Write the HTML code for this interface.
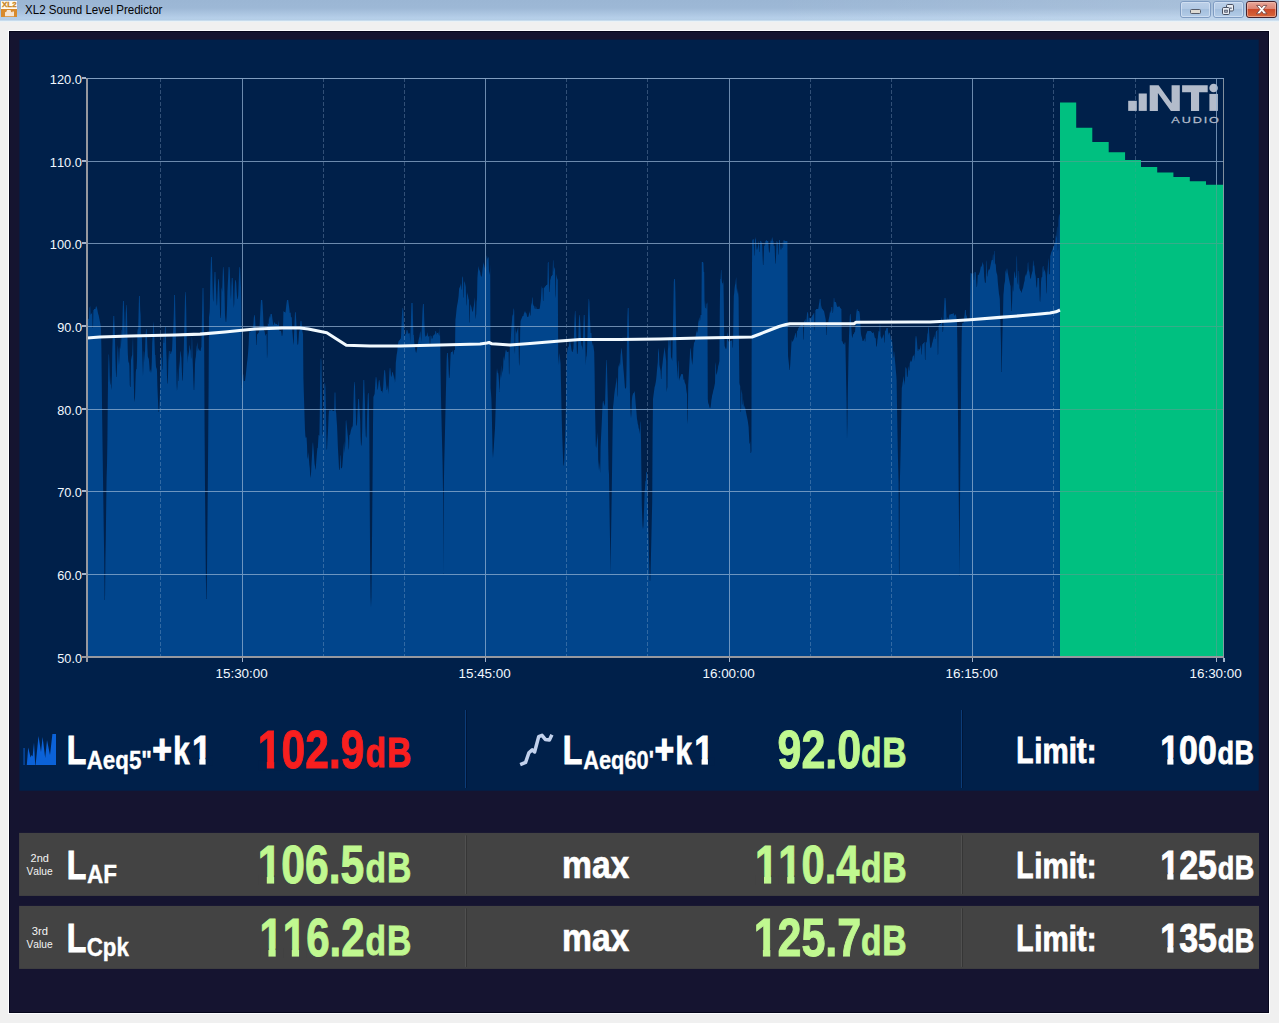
<!DOCTYPE html>
<html><head><meta charset="utf-8"><title>XL2 Sound Level Predictor</title>
<style>html,body{margin:0;padding:0;background:#f0f0f0;overflow:hidden}body{width:1279px;height:1023px;font-family:"Liberation Sans",sans-serif}svg{display:block}text{font-family:"Liberation Sans",sans-serif;font-kerning:none;white-space:pre}</style></head><body>
<svg width="1279" height="1023" viewBox="0 0 1279 1023">
<defs>
<linearGradient id="tb" x1="0" y1="0" x2="0" y2="1"><stop offset="0" stop-color="#9bb6d4"/><stop offset="0.38" stop-color="#9db8d6"/><stop offset="0.86" stop-color="#b6cfe9"/><stop offset="1" stop-color="#b2cce4"/></linearGradient>
<linearGradient id="tbh" x1="0" y1="0" x2="1" y2="0"><stop offset="0.6" stop-color="#fff" stop-opacity="0"/><stop offset="1" stop-color="#fff" stop-opacity="0.14"/></linearGradient>
<linearGradient id="bt" x1="0" y1="0" x2="0" y2="1"><stop offset="0" stop-color="#bcd0e8"/><stop offset="0.48" stop-color="#b2c9e4"/><stop offset="0.5" stop-color="#a4bfdd"/><stop offset="1" stop-color="#b4cde8"/></linearGradient>
<linearGradient id="cl" x1="0" y1="0" x2="0" y2="1"><stop offset="0" stop-color="#e9a99c"/><stop offset="0.48" stop-color="#dc8270"/><stop offset="0.5" stop-color="#cc4a2a"/><stop offset="1" stop-color="#d8683c"/></linearGradient>
<clipPath id="plot"><rect x="87.0" y="78.6" width="1137.0" height="578.4"/></clipPath>
</defs>
<rect width="1279" height="1023" fill="#f0f0f0"/>
<rect width="1279" height="21" fill="url(#tb)"/>
<rect width="1279" height="21" fill="url(#tbh)"/>
<rect y="20.6" width="1279" height="1.1" fill="#e6f2fa"/>
<rect x="1" y="1" width="16" height="8.2" fill="#fffaf0"/>
<rect x="1" y="9" width="16" height="8" fill="#d88a2c"/>
<g transform="translate(2.11 6.75) scale(1.1769 1.0000)"><text font-size="6.69" font-weight="700" fill="#c98624" stroke="#c98624" stroke-width="0.30" stroke-linejoin="miter">XL2</text></g>
<path d="M5 16.2V12.2L6.4 11.8L7 10H10.6L11.2 12L12.4 12.2V11.4H14V16.2Z" fill="#f7eadc" fill-opacity="0.95"/>
<g transform="translate(25.04 13.70) scale(0.9130 1.0000)"><text font-size="12.65" font-weight="400" fill="#050505">XL2 Sound Level Predictor</text></g>
<rect x="1180.5" y="1.5" width="30" height="16" rx="2.5" fill="url(#bt)" stroke="#7f9cc2" stroke-width="1"/>
<rect x="1181.5" y="2.5" width="28" height="14" rx="1.5" fill="none" stroke="#d6e3f4" stroke-opacity="0.75" stroke-width="1"/>
<rect x="1213.5" y="1.5" width="30" height="16" rx="2.5" fill="url(#bt)" stroke="#7f9cc2" stroke-width="1"/>
<rect x="1214.5" y="2.5" width="28" height="14" rx="1.5" fill="none" stroke="#d6e3f4" stroke-opacity="0.75" stroke-width="1"/>
<rect x="1246.5" y="1.5" width="30" height="16" rx="2.5" fill="url(#cl)" stroke="#43212c" stroke-width="1"/>
<rect x="1247.5" y="2.5" width="28" height="14" rx="1.5" fill="none" stroke="#f3c4b8" stroke-opacity="0.6" stroke-width="1"/>
<rect x="1190.5" y="9.5" width="10" height="4" rx="1" fill="#dedbd4" stroke="#565c6a" stroke-width="1"/>
<rect x="1226.5" y="4.5" width="7" height="6.5" rx="1.2" fill="#e9edf3" stroke="#4a5162" stroke-width="1"/>
<rect x="1229.8" y="7.4" width="2" height="1.6" fill="#7c8698"/>
<rect x="1222.5" y="7.5" width="7" height="7" rx="1.2" fill="#e9edf3" stroke="#4a5162" stroke-width="1"/>
<rect x="1224.7" y="10.2" width="2.6" height="2" fill="#c3cee0" stroke="#4a5162" stroke-width="0.9"/>
<path d="M1256.6 5.4h3.3l1.8 2.3l1.8-2.3h3.3l-3.4 4.1l3.6 4.3h-3.5l-1.8-2.4l-1.8 2.4h-3.5l3.6-4.3Z" fill="#fff" stroke="#6a3c3c" stroke-width="0.8" stroke-linejoin="round"/>
<rect x="8.5" y="30.5" width="1261" height="983" fill="none" stroke="#fdfdff" stroke-width="1"/>
<rect x="9" y="31" width="1260" height="982" fill="#151430"/>
<rect x="9.5" y="31.5" width="1259" height="981" fill="none" stroke="#07071c" stroke-width="1"/>
<rect x="19.4" y="39.6" width="1239.3" height="751.1" fill="#00204a"/>
<path d="M87.0 657.0L87.0 321L87.4 320L87.8 319L88.2 319L88.6 319L89.0 318L89.4 308L89.8 307L90.2 306L90.6 315L91.0 314L91.4 314L91.8 313L92.2 312L92.6 328L93.0 328L93.4 310L93.8 310L94.2 309L94.6 309L95.0 309L95.4 309L95.8 307L96.2 306L96.6 307L97.0 308L97.4 310L97.8 312L98.2 314L98.6 315L99.0 317L99.4 319L99.8 321L100.2 323L100.6 325L101.0 329L101.4 348L101.8 384L102.2 419L102.6 449L103.0 477L103.4 505L103.8 532L104.2 557L104.6 600L105.0 600L105.4 559L105.8 538L106.2 505L106.6 477L107.0 465L107.4 440L107.8 398L108.2 371L108.6 354L109.0 355L109.4 364L109.8 379L110.2 385L110.6 384L111.0 375L111.4 390L111.8 387L112.2 353L112.6 340L113.0 325L113.4 316L113.8 316L114.2 316L114.6 327L115.0 338L115.4 357L115.8 370L116.2 377L116.6 377L117.0 367L117.4 353L117.8 345L118.2 349L118.6 359L119.0 365L119.4 357L119.8 347L120.2 349L120.6 345L121.0 330L121.4 330L121.8 344L122.2 331L122.6 314L123.0 301L123.4 301L123.8 301L124.2 312L124.6 324L125.0 340L125.4 327L125.8 312L126.2 305L126.6 305L127.0 313L127.4 334L127.8 353L128.2 360L128.6 363L129.0 362L129.4 366L129.8 385L130.2 387L130.6 387L131.0 360L131.4 358L131.8 356L132.2 355L132.6 345L133.0 335L133.4 362L133.8 382L134.2 398L134.6 402L135.0 398L135.4 384L135.8 372L136.2 369L136.6 369L137.0 360L137.4 332L137.8 329L138.2 329L138.6 312L139.0 296L139.4 296L139.8 296L140.2 310L140.6 315L141.0 338L141.4 337L141.8 333L142.2 351L142.6 364L143.0 376L143.4 364L143.8 351L144.2 352L144.6 362L145.0 352L145.4 338L145.8 332L146.2 329L146.6 329L147.0 336L147.4 348L147.8 356L148.2 359L148.6 357L149.0 361L149.4 366L149.8 372L150.2 369L150.6 371L151.0 373L151.4 370L151.8 362L152.2 343L152.6 337L153.0 328L153.4 321L153.8 326L154.2 332L154.6 344L155.0 355L155.4 355L155.8 364L156.2 369L156.6 367L157.0 371L157.4 387L157.8 396L158.2 405L158.6 412L159.0 412L159.4 406L159.8 397L160.2 385L160.6 364L161.0 347L161.4 358L161.8 357L162.2 369L162.6 370L163.0 344L163.4 331L163.8 343L164.2 343L164.6 335L165.0 327L165.4 327L165.8 327L166.2 349L166.6 359L167.0 377L167.4 384L167.8 383L168.2 368L168.6 350L169.0 361L169.4 351L169.8 351L170.2 351L170.6 354L171.0 354L171.4 351L171.8 352L172.2 347L172.6 336L173.0 333L173.4 327L173.8 314L174.2 295L174.6 295L175.0 295L175.4 316L175.8 330L176.2 360L176.6 384L177.0 391L177.4 386L177.8 368L178.2 381L178.6 381L179.0 361L179.4 369L179.8 361L180.2 352L180.6 351L181.0 355L181.4 358L181.8 368L182.2 380L182.6 381L183.0 374L183.4 359L183.8 349L184.2 332L184.6 315L185.0 297L185.4 292L185.8 292L186.2 308L186.6 334L187.0 355L187.4 363L187.8 350L188.2 353L188.6 357L189.0 352L189.4 345L189.8 346L190.2 351L190.6 348L191.0 359L191.4 357L191.8 336L192.2 340L192.6 359L193.0 369L193.4 381L193.8 390L194.2 390L194.6 379L195.0 364L195.4 359L195.8 357L196.2 352L196.6 347L197.0 345L197.4 342L197.8 351L198.2 350L198.6 348L199.0 349L199.4 351L199.8 350L200.2 351L200.6 351L201.0 348L201.4 347L201.8 325L202.2 307L202.6 288L203.0 288L203.4 288L203.8 308L204.2 350L204.6 431L205.0 486L205.4 530L205.8 570L206.2 599L206.6 599L207.0 570L207.4 529L207.8 485L208.2 439L208.6 385L209.0 312L209.4 317L209.8 308L210.2 285L210.6 270L211.0 257L211.4 257L211.8 257L212.2 270L212.6 286L213.0 300L213.4 302L213.8 290L214.2 281L214.6 272L215.0 272L215.4 272L215.8 284L216.2 294L216.6 304L217.0 306L217.4 296L217.8 286L218.2 279L218.6 279L219.0 281L219.4 291L219.8 303L220.2 318L220.6 318L221.0 314L221.4 290L221.8 287L222.2 292L222.6 278L223.0 267L223.4 267L223.8 271L224.2 282L224.6 296L225.0 315L225.4 319L225.8 322L226.2 322L226.6 317L227.0 308L227.4 292L227.8 284L228.2 277L228.6 267L229.0 267L229.4 267L229.8 270L230.2 282L230.6 295L231.0 300L231.4 286L231.8 278L232.2 278L232.6 278L233.0 286L233.4 299L233.8 308L234.2 304L234.6 290L235.0 282L235.4 280L235.8 280L236.2 283L236.6 290L237.0 296L237.4 299L237.8 299L238.2 295L238.6 285L239.0 275L239.4 267L239.8 267L240.2 269L240.6 279L241.0 287L241.4 305L241.8 388L242.2 380L242.6 379L243.0 374L243.4 375L243.8 381L244.2 381L244.6 381L245.0 381L245.4 378L245.8 375L246.2 371L246.6 367L247.0 363L247.4 360L247.8 356L248.2 351L248.6 345L249.0 335L249.4 330L249.8 331L250.2 332L250.6 331L251.0 331L251.4 331L251.8 329L252.2 328L252.6 328L253.0 327L253.4 324L253.8 318L254.2 315L254.6 315L255.0 317L255.4 324L255.8 331L256.2 345L256.6 345L257.0 335L257.4 334L257.8 334L258.2 333L258.6 333L259.0 331L259.4 330L259.8 322L260.2 314L260.6 306L261.0 300L261.4 300L261.8 300L262.2 300L262.6 305L263.0 312L263.4 322L263.8 329L264.2 331L264.6 331L265.0 334L265.4 335L265.8 336L266.2 334L266.6 334L267.0 359L267.4 354L267.8 323L268.2 324L268.6 324L269.0 317L269.4 316L269.8 319L270.2 317L270.6 314L271.0 314L271.4 314L271.8 314L272.2 317L272.6 320L273.0 323L273.4 325L273.8 325L274.2 323L274.6 322L275.0 323L275.4 324L275.8 324L276.2 324L276.6 324L277.0 324L277.4 325L277.8 325L278.2 325L278.6 320L279.0 325L279.4 331L279.8 331L280.2 331L280.6 331L281.0 331L281.4 333L281.8 336L282.2 336L282.6 334L283.0 329L283.4 312L283.8 311L284.2 312L284.6 312L285.0 312L285.4 313L285.8 310L286.2 306L286.6 303L287.0 300L287.4 300L287.8 300L288.2 300L288.6 303L289.0 306L289.4 309L289.8 313L290.2 313L290.6 312L291.0 317L291.4 317L291.8 318L292.2 330L292.6 334L293.0 339L293.4 345L293.8 342L294.2 331L294.6 321L295.0 312L295.4 312L295.8 313L296.2 320L296.6 327L297.0 337L297.4 344L297.8 345L298.2 344L298.6 339L299.0 332L299.4 331L299.8 328L300.2 325L300.6 321L301.0 321L301.4 321L301.8 325L302.2 329L302.6 334L303.0 331L303.4 378L303.8 392L304.2 404L304.6 418L305.0 430L305.4 436L305.8 438L306.2 437L306.6 438L307.0 445L307.4 457L307.8 459L308.2 452L308.6 456L309.0 460L309.4 465L309.8 468L310.2 475L310.6 478L311.0 474L311.4 466L311.8 459L312.2 452L312.6 444L313.0 442L313.4 447L313.8 452L314.2 459L314.6 464L315.0 466L315.4 470L315.8 468L316.2 462L316.6 457L317.0 452L317.4 448L317.8 448L318.2 441L318.6 435L319.0 435L319.4 436L319.8 411L320.2 381L320.6 360L321.0 358L321.4 361L321.8 386L322.2 412L322.6 435L323.0 434L323.4 424L323.8 406L324.2 389L324.6 383L325.0 383L325.4 387L325.8 403L326.2 424L326.6 449L327.0 450L327.4 441L327.8 434L328.2 426L328.6 416L329.0 410L329.4 410L329.8 411L330.2 411L330.6 410L331.0 410L331.4 410L331.8 410L332.2 411L332.6 410L333.0 411L333.4 411L333.8 411L334.2 411L334.6 393L335.0 392L335.4 393L335.8 411L336.2 413L336.6 420L337.0 425L337.4 434L337.8 445L338.2 453L338.6 460L339.0 468L339.4 470L339.8 470L340.2 456L340.6 455L341.0 469L341.4 468L341.8 468L342.2 467L342.6 462L343.0 457L343.4 451L343.8 445L344.2 441L344.6 453L345.0 448L345.4 442L345.8 421L346.2 420L346.6 424L347.0 428L347.4 432L347.8 436L348.2 440L348.6 450L349.0 448L349.4 435L349.8 435L350.2 434L350.6 432L351.0 430L351.4 429L351.8 427L352.2 426L352.6 428L353.0 421L353.4 405L353.8 391L354.2 382L354.6 382L355.0 386L355.4 401L355.8 412L356.2 425L356.6 426L357.0 424L357.4 415L357.8 407L358.2 399L358.6 399L359.0 399L359.4 407L359.8 413L360.2 421L360.6 437L361.0 445L361.4 446L361.8 442L362.2 429L362.6 407L363.0 394L363.4 380L363.8 380L364.2 380L364.6 393L365.0 404L365.4 426L365.8 436L366.2 438L366.6 436L367.0 419L367.4 406L367.8 395L368.2 393L368.6 393L369.0 404L369.4 443L369.8 511L370.2 567L370.6 597L371.0 607L371.4 597L371.8 561L372.2 519L372.6 474L373.0 425L373.4 397L373.8 396L374.2 395L374.6 394L375.0 388L375.4 381L375.8 377L376.2 377L376.6 379L377.0 384L377.4 389L377.8 390L378.2 386L378.6 382L379.0 380L379.4 380L379.8 382L380.2 386L380.6 388L381.0 391L381.4 391L381.8 391L382.2 393L382.6 391L383.0 389L383.4 383L383.8 376L384.2 371L384.6 370L385.0 370L385.4 374L385.8 380L386.2 385L386.6 390L387.0 390L387.4 388L387.8 385L388.2 394L388.6 389L389.0 381L389.4 372L389.8 368L390.2 368L390.6 371L391.0 376L391.4 377L391.8 375L392.2 372L392.6 372L393.0 373L393.4 375L393.8 376L394.2 380L394.6 376L395.0 383L395.4 378L395.8 363L396.2 359L396.6 355L397.0 353L397.4 350L397.8 345L398.2 343L398.6 341L399.0 341L399.4 340L399.8 340L400.2 339L400.6 339L401.0 337L401.4 328L401.8 318L402.2 311L402.6 308L403.0 308L403.4 311L403.8 319L404.2 328L404.6 336L405.0 336L405.4 334L405.8 334L406.2 330L406.6 330L407.0 334L407.4 330L407.8 330L408.2 333L408.6 334L409.0 333L409.4 333L409.8 334L410.2 343L410.6 331L411.0 317L411.4 303L411.8 303L412.2 303L412.6 303L413.0 319L413.4 335L413.8 335L414.2 342L414.6 345L415.0 348L415.4 350L415.8 352L416.2 353L416.6 351L417.0 349L417.4 347L417.8 344L418.2 342L418.6 340L419.0 338L419.4 337L419.8 334L420.2 331L420.6 333L421.0 338L421.4 342L421.8 328L422.2 318L422.6 309L423.0 304L423.4 304L423.8 304L424.2 318L424.6 328L425.0 335L425.4 336L425.8 337L426.2 336L426.6 336L427.0 334L427.4 332L427.8 335L428.2 336L428.6 337L429.0 336L429.4 336L429.8 347L430.2 347L430.6 335L431.0 336L431.4 336L431.8 339L432.2 338L432.6 339L433.0 335L433.4 336L433.8 335L434.2 335L434.6 334L435.0 334L435.4 331L435.8 331L436.2 332L436.6 335L437.0 333L437.4 333L437.8 333L438.2 332L438.6 334L439.0 335L439.4 336L439.8 327L440.2 340L440.6 372L441.0 397L441.4 415L441.8 432L442.2 448L442.6 464L443.0 489L443.4 574L443.8 488L444.2 464L444.6 448L445.0 431L445.4 413L445.8 396L446.2 379L446.6 361L447.0 353L447.4 353L447.8 353L448.2 359L448.6 369L449.0 378L449.4 378L449.8 374L450.2 364L450.6 354L451.0 352L451.4 352L451.8 352L452.2 352L452.6 351L453.0 350L453.4 354L453.8 355L454.2 350L454.6 350L455.0 350L455.4 320L455.8 317L456.2 313L456.6 309L457.0 306L457.4 304L457.8 302L458.2 299L458.6 296L459.0 290L459.4 287L459.8 288L460.2 286L460.6 285L461.0 283L461.4 290L461.8 289L462.2 278L462.6 277L463.0 276L463.4 297L463.8 298L464.2 281L464.6 282L465.0 283L465.4 285L465.8 287L466.2 304L466.6 306L467.0 292L467.4 294L467.8 295L468.2 297L468.6 299L469.0 300L469.4 322L469.8 323L470.2 304L470.6 305L471.0 306L471.4 307L471.8 309L472.2 311L472.6 312L473.0 311L473.4 308L473.8 306L474.2 303L474.6 300L475.0 297L475.4 319L475.8 317L476.2 314L476.6 302L477.0 299L477.4 278L477.8 273L478.2 269L478.6 266L479.0 269L479.4 270L479.8 271L480.2 272L480.6 275L481.0 276L481.4 277L481.8 276L482.2 273L482.6 269L483.0 266L483.4 262L483.8 264L484.2 265L484.6 267L485.0 268L485.4 270L485.8 269L486.2 266L486.6 257L487.0 255L487.4 260L487.8 258L488.2 257L488.6 258L489.0 271L489.4 273L489.8 275L490.2 264L490.6 388L491.0 393L491.4 399L491.8 412L492.2 433L492.6 452L493.0 458L493.4 452L493.8 447L494.2 440L494.6 434L495.0 428L495.4 416L495.8 402L496.2 388L496.6 374L497.0 368L497.4 371L497.8 373L498.2 373L498.6 376L499.0 382L499.4 392L499.8 387L500.2 368L500.6 380L501.0 374L501.4 378L501.8 365L502.2 369L502.6 373L503.0 370L503.4 360L503.8 356L504.2 361L504.6 358L505.0 355L505.4 352L505.8 350L506.2 350L506.6 351L507.0 352L507.4 352L507.8 352L508.2 352L508.6 351L509.0 375L509.4 373L509.8 347L510.2 345L510.6 342L511.0 335L511.4 327L511.8 323L512.2 317L512.6 314L513.0 316L513.4 310L513.8 308L514.2 311L514.6 350L515.0 354L515.4 326L515.8 330L516.2 334L516.6 332L517.0 331L517.4 330L517.8 328L518.2 327L518.6 345L519.0 364L519.4 366L519.8 354L520.2 330L520.6 321L521.0 320L521.4 319L521.8 318L522.2 317L522.6 316L523.0 316L523.4 316L523.8 314L524.2 313L524.6 312L525.0 311L525.4 312L525.8 313L526.2 313L526.6 314L527.0 316L527.4 317L527.8 317L528.2 317L528.6 316L529.0 314L529.4 313L529.8 311L530.2 316L530.6 315L531.0 306L531.4 304L531.8 303L532.2 297L532.6 298L533.0 304L533.4 305L533.8 306L534.2 306L534.6 308L535.0 309L535.4 309L535.8 306L536.2 307L536.6 309L537.0 309L537.4 309L537.8 309L538.2 309L538.6 309L539.0 309L539.4 309L539.8 308L540.2 305L540.6 302L541.0 298L541.4 290L541.8 286L542.2 288L542.6 288L543.0 301L543.4 301L543.8 288L544.2 287L544.6 288L545.0 287L545.4 286L545.8 286L546.2 285L546.6 285L547.0 285L547.4 284L547.8 263L548.2 262L548.6 262L549.0 282L549.4 292L549.8 292L550.2 280L550.6 279L551.0 277L551.4 276L551.8 276L552.2 275L552.6 275L553.0 261L553.4 260L553.8 272L554.2 269L554.6 268L555.0 267L555.4 295L555.8 298L556.2 274L556.6 276L557.0 278L557.4 279L557.8 280L558.2 355L558.6 360L559.0 365L559.4 353L559.8 355L560.2 360L560.6 364L561.0 383L561.4 403L561.8 421L562.2 435L562.6 446L563.0 457L563.4 465L563.8 466L564.2 461L564.6 451L565.0 440L565.4 429L565.8 412L566.2 388L566.6 361L567.0 353L567.4 350L567.8 348L568.2 347L568.6 347L569.0 345L569.4 343L569.8 341L570.2 341L570.6 344L571.0 346L571.4 349L571.8 351L572.2 352L572.6 352L573.0 350L573.4 349L573.8 340L574.2 328L574.6 317L575.0 311L575.4 311L575.8 318L576.2 331L576.6 345L577.0 354L577.4 354L577.8 352L578.2 341L578.6 328L579.0 318L579.4 315L579.8 315L580.2 322L580.6 331L581.0 340L581.4 345L581.8 346L582.2 347L582.6 350L583.0 339L583.4 325L583.8 315L584.2 315L584.6 315L585.0 327L585.4 348L585.8 365L586.2 357L586.6 356L587.0 351L587.4 339L587.8 323L588.2 309L588.6 299L589.0 299L589.4 302L589.8 315L590.2 323L590.6 333L591.0 333L591.4 333L591.8 341L592.2 343L592.6 346L593.0 343L593.4 346L593.8 349L594.2 352L594.6 372L595.0 406L595.4 426L595.8 446L596.2 448L596.6 444L597.0 440L597.4 437L597.8 432L598.2 460L598.6 464L599.0 470L599.4 462L599.8 469L600.2 473L600.6 446L601.0 438L601.4 430L601.8 422L602.2 412L602.6 404L603.0 401L603.4 401L603.8 403L604.2 404L604.6 406L605.0 405L605.4 390L605.8 375L606.2 360L606.6 360L607.0 368L607.4 384L607.8 400L608.2 446L608.6 469L609.0 474L609.4 501L609.8 527L610.2 550L610.6 574L611.0 539L611.4 514L611.8 488L612.2 459L612.6 431L613.0 407L613.4 404L613.8 400L614.2 395L614.6 392L615.0 389L615.4 387L615.8 384L616.2 382L616.6 379L617.0 377L617.4 397L617.8 395L618.2 369L618.6 366L619.0 365L619.4 362L619.8 367L620.2 364L620.6 355L621.0 352L621.4 348L621.8 349L622.2 354L622.6 359L623.0 364L623.4 369L623.8 373L624.2 378L624.6 383L625.0 388L625.4 389L625.8 388L626.2 387L626.6 364L627.0 337L627.4 317L627.8 308L628.2 308L628.6 308L629.0 332L629.4 354L629.8 384L630.2 405L630.6 413L631.0 418L631.4 414L631.8 401L632.2 397L632.6 395L633.0 394L633.4 393L633.8 393L634.2 392L634.6 391L635.0 395L635.4 400L635.8 405L636.2 409L636.6 414L637.0 419L637.4 421L637.8 424L638.2 425L638.6 428L639.0 429L639.4 431L639.8 434L640.2 421L640.6 423L641.0 439L641.4 474L641.8 505L642.2 517L642.6 526L643.0 529L643.4 526L643.8 517L644.2 505L644.6 492L645.0 488L645.4 481L645.8 481L646.2 472L646.6 472L647.0 473L647.4 480L647.8 501L648.2 520L648.6 539L649.0 556L649.4 569L649.8 581L650.2 581L650.6 570L651.0 554L651.4 537L651.8 519L652.2 502L652.6 436L653.0 399L653.4 396L653.8 393L654.2 390L654.6 387L655.0 386L655.4 384L655.8 382L656.2 379L656.6 375L657.0 370L657.4 366L657.8 362L658.2 348L658.6 350L659.0 353L659.4 365L659.8 367L660.2 369L660.6 371L661.0 379L661.4 379L661.8 369L662.2 366L662.6 363L663.0 359L663.4 356L663.8 353L664.2 350L664.6 347L665.0 351L665.4 354L665.8 358L666.2 361L666.6 392L667.0 389L667.4 387L667.8 351L668.2 347L668.6 338L669.0 339L669.4 348L669.8 336L670.2 338L670.6 341L671.0 357L671.4 358L671.8 359L672.2 361L672.6 347L673.0 325L673.4 304L673.8 282L674.2 279L674.6 279L675.0 279L675.4 293L675.8 315L676.2 337L676.6 360L677.0 366L677.4 372L677.8 379L678.2 362L678.6 360L679.0 381L679.4 379L679.8 378L680.2 377L680.6 376L681.0 375L681.4 374L681.8 374L682.2 374L682.6 374L683.0 375L683.4 379L683.8 380L684.2 379L684.6 382L685.0 383L685.4 384L685.8 385L686.2 389L686.6 392L687.0 394L687.4 424L687.8 419L688.2 385L688.6 378L689.0 371L689.4 364L689.8 357L690.2 349L690.6 348L691.0 352L691.4 358L691.8 361L692.2 365L692.6 362L693.0 358L693.4 348L693.8 345L694.2 341L694.6 343L695.0 341L695.4 338L695.8 335L696.2 333L696.6 330L697.0 333L697.4 332L697.8 330L698.2 323L698.6 321L699.0 319L699.4 317L699.8 321L700.2 320L700.6 315L701.0 315L701.4 315L701.8 262L702.2 262L702.6 262L703.0 262L703.4 263L703.8 272L704.2 272L704.6 307L705.0 300L705.4 308L705.8 308L706.2 309L706.6 303L707.0 304L707.4 302L707.8 399L708.2 403L708.6 404L709.0 405L709.4 407L709.8 408L710.2 408L710.6 407L711.0 404L711.4 400L711.8 398L712.2 395L712.6 394L713.0 392L713.4 390L713.8 389L714.2 387L714.6 385L715.0 383L715.4 365L715.8 362L716.2 375L716.6 374L717.0 373L717.4 371L717.8 369L718.2 366L718.6 365L719.0 363L719.4 361L719.8 311L720.2 279L720.6 279L721.0 270L721.4 270L721.8 281L722.2 283L722.6 283L723.0 285L723.4 279L723.8 303L724.2 337L724.6 346L725.0 347L725.4 348L725.8 349L726.2 349L726.6 347L727.0 336L727.4 334L727.8 332L728.2 341L728.6 341L729.0 342L729.4 342L729.8 342L730.2 341L730.6 341L731.0 341L731.4 341L731.8 340L732.2 340L732.6 348L733.0 347L733.4 318L733.8 296L734.2 293L734.6 288L735.0 285L735.4 284L735.8 280L736.2 277L736.6 287L737.0 291L737.4 294L737.8 288L738.2 293L738.6 298L739.0 346L739.4 383L739.8 385L740.2 386L740.6 412L741.0 412L741.4 389L741.8 392L742.2 394L742.6 404L743.0 405L743.4 399L743.8 406L744.2 408L744.6 405L745.0 407L745.4 409L745.8 411L746.2 413L746.6 415L747.0 417L747.4 419L747.8 421L748.2 424L748.6 427L749.0 435L749.4 443L749.8 444L750.2 441L750.6 453L751.0 453L751.4 451L751.8 290L752.2 241L752.6 240L753.0 239L753.4 239L753.8 240L754.2 256L754.6 255L755.0 240L755.4 239L755.8 237L756.2 244L756.6 249L757.0 250L757.4 249L757.8 247L758.2 245L758.6 242L759.0 241L759.4 252L759.8 252L760.2 241L760.6 241L761.0 241L761.4 242L761.8 243L762.2 246L762.6 257L763.0 265L763.4 265L763.8 255L764.2 242L764.6 246L765.0 246L765.4 241L765.8 241L766.2 240L766.6 240L767.0 241L767.4 241L767.8 241L768.2 241L768.6 247L769.0 252L769.4 253L769.8 251L770.2 245L770.6 240L771.0 241L771.4 241L771.8 239L772.2 237L772.6 239L773.0 241L773.4 241L773.8 246L774.2 246L774.6 245L775.0 257L775.4 264L775.8 263L776.2 251L776.6 241L777.0 241L777.4 242L777.8 243L778.2 255L778.6 254L779.0 240L779.4 240L779.8 240L780.2 245L780.6 249L781.0 250L781.4 249L781.8 245L782.2 241L782.6 248L783.0 248L783.4 241L783.8 240L784.2 241L784.6 240L785.0 241L785.4 241L785.8 241L786.2 241L786.6 241L787.0 241L787.4 241L787.8 338L788.2 365L788.6 356L789.0 364L789.4 370L789.8 370L790.2 365L790.6 358L791.0 351L791.4 344L791.8 340L792.2 341L792.6 342L793.0 341L793.4 340L793.8 339L794.2 338L794.6 336L795.0 335L795.4 333L795.8 333L796.2 338L796.6 337L797.0 331L797.4 331L797.8 330L798.2 328L798.6 328L799.0 327L799.4 326L799.8 326L800.2 326L800.6 325L801.0 324L801.4 324L801.8 324L802.2 324L802.6 324L803.0 324L803.4 340L803.8 339L804.2 321L804.6 321L805.0 320L805.4 319L805.8 323L806.2 322L806.6 319L807.0 314L807.4 312L807.8 312L808.2 314L808.6 323L809.0 317L809.4 318L809.8 318L810.2 318L810.6 320L811.0 319L811.4 317L811.8 317L812.2 316L812.6 315L813.0 315L813.4 314L813.8 313L814.2 313L814.6 331L815.0 329L815.4 310L815.8 310L816.2 309L816.6 309L817.0 309L817.4 309L817.8 309L818.2 309L818.6 307L819.0 304L819.4 302L819.8 299L820.2 299L820.6 299L821.0 309L821.4 305L821.8 308L822.2 309L822.6 309L823.0 310L823.4 311L823.8 310L824.2 312L824.6 314L825.0 316L825.4 318L825.8 320L826.2 335L826.6 335L827.0 322L827.4 322L827.8 323L828.2 323L828.6 320L829.0 318L829.4 316L829.8 313L830.2 310L830.6 313L831.0 312L831.4 307L831.8 307L832.2 307L832.6 313L833.0 313L833.4 307L833.8 298L834.2 298L834.6 302L835.0 302L835.4 302L835.8 302L836.2 303L836.6 305L837.0 306L837.4 307L837.8 307L838.2 307L838.6 306L839.0 307L839.4 306L839.8 307L840.2 308L840.6 308L841.0 309L841.4 309L841.8 341L842.2 341L842.6 342L843.0 343L843.4 344L843.8 344L844.2 345L844.6 343L845.0 342L845.4 343L845.8 363L846.2 384L846.6 403L847.0 439L847.4 424L847.8 393L848.2 372L848.6 349L849.0 336L849.4 327L849.8 316L850.2 314L850.6 314L851.0 320L851.4 329L851.8 335L852.2 338L852.6 337L853.0 335L853.4 334L853.8 334L854.2 333L854.6 332L855.0 332L855.4 327L855.8 320L856.2 314L856.6 311L857.0 309L857.4 309L857.8 311L858.2 311L858.6 311L859.0 311L859.4 312L859.8 314L860.2 320L860.6 329L861.0 334L861.4 336L861.8 337L862.2 339L862.6 341L863.0 341L863.4 341L863.8 340L864.2 339L864.6 338L865.0 342L865.4 341L865.8 335L866.2 334L866.6 333L867.0 332L867.4 331L867.8 331L868.2 331L868.6 331L869.0 331L869.4 331L869.8 331L870.2 331L870.6 331L871.0 331L871.4 332L871.8 332L872.2 333L872.6 333L873.0 333L873.4 332L873.8 333L874.2 335L874.6 337L875.0 338L875.4 338L875.8 339L876.2 346L876.6 347L877.0 345L877.4 340L877.8 338L878.2 334L878.6 331L879.0 331L879.4 332L879.8 324L880.2 325L880.6 336L881.0 337L881.4 338L881.8 339L882.2 338L882.6 337L883.0 336L883.4 335L883.8 334L884.2 343L884.6 342L885.0 331L885.4 331L885.8 330L886.2 329L886.6 328L887.0 328L887.4 328L887.8 328L888.2 333L888.6 335L889.0 332L889.4 333L889.8 333L890.2 335L890.6 338L891.0 340L891.4 339L891.8 341L892.2 342L892.6 346L893.0 356L893.4 358L893.8 351L894.2 352L894.6 356L895.0 361L895.4 365L895.8 370L896.2 374L896.6 380L897.0 404L897.4 429L897.8 450L898.2 468L898.6 483L899.0 574L899.4 574L899.8 483L900.2 468L900.6 451L901.0 431L901.4 409L901.8 388L902.2 386L902.6 383L903.0 381L903.4 378L903.8 376L904.2 385L904.6 382L905.0 380L905.4 368L905.8 367L906.2 368L906.6 369L907.0 377L907.4 377L907.8 375L908.2 368L908.6 366L909.0 371L909.4 370L909.8 363L910.2 362L910.6 361L911.0 360L911.4 362L911.8 361L912.2 359L912.6 357L913.0 356L913.4 356L913.8 355L914.2 354L914.6 361L915.0 351L915.4 339L915.8 336L916.2 336L916.6 338L917.0 342L917.4 348L917.8 351L918.2 351L918.6 349L919.0 349L919.4 350L919.8 349L920.2 348L920.6 346L921.0 345L921.4 354L921.8 355L922.2 345L922.6 344L923.0 344L923.4 343L923.8 343L924.2 342L924.6 342L925.0 360L925.4 360L925.8 342L926.2 342L926.6 343L927.0 339L927.4 334L927.8 333L928.2 327L928.6 327L929.0 330L929.4 336L929.8 342L930.2 347L930.6 348L931.0 348L931.4 347L931.8 345L932.2 343L932.6 342L933.0 340L933.4 339L933.8 337L934.2 337L934.6 334L935.0 339L935.4 339L935.8 332L936.2 331L936.6 331L937.0 330L937.4 330L937.8 355L938.2 354L938.6 326L939.0 325L939.4 325L939.8 324L940.2 324L940.6 324L941.0 324L941.4 318L941.8 317L942.2 323L942.6 332L943.0 332L943.4 327L943.8 312L944.2 305L944.6 298L945.0 298L945.4 298L945.8 301L946.2 311L946.6 320L947.0 320L947.4 318L947.8 317L948.2 320L948.6 319L949.0 316L949.4 315L949.8 314L950.2 315L950.6 314L951.0 314L951.4 314L951.8 314L952.2 314L952.6 314L953.0 313L953.4 313L953.8 314L954.2 315L954.6 316L955.0 315L955.4 314L955.8 315L956.2 316L956.6 319L957.0 321L957.4 348L957.8 394L958.2 437L958.6 478L959.0 523L959.4 576L959.8 523L960.2 478L960.6 437L961.0 393L961.4 355L961.8 331L962.2 323L962.6 323L963.0 323L963.4 323L963.8 322L964.2 317L964.6 315L965.0 310L965.4 310L965.8 310L966.2 316L966.6 315L967.0 318L967.4 319L967.8 319L968.2 319L968.6 320L969.0 320L969.4 318L969.8 318L970.2 288L970.6 273L971.0 273L971.4 273L971.8 274L972.2 274L972.6 274L973.0 273L973.4 273L973.8 280L974.2 280L974.6 272L975.0 272L975.4 272L975.8 273L976.2 281L976.6 287L977.0 287L977.4 282L977.8 275L978.2 275L978.6 275L979.0 274L979.4 273L979.8 272L980.2 270L980.6 268L981.0 266L981.4 267L981.8 266L982.2 263L982.6 262L983.0 265L983.4 264L983.8 269L984.2 277L984.6 280L985.0 283L985.4 283L985.8 282L986.2 262L986.6 260L987.0 277L987.4 276L987.8 273L988.2 271L988.6 270L989.0 269L989.4 270L989.8 269L990.2 267L990.6 265L991.0 263L991.4 261L991.8 260L992.2 260L992.6 260L993.0 254L993.4 255L993.8 264L994.2 251L994.6 251L995.0 265L995.4 263L995.8 265L996.2 271L996.6 273L997.0 274L997.4 276L997.8 282L998.2 286L998.6 290L999.0 294L999.4 296L999.8 299L1000.2 315L1000.6 329L1001.0 345L1001.4 372L1001.8 372L1002.2 345L1002.6 329L1003.0 314L1003.4 295L1003.8 291L1004.2 285L1004.6 283L1005.0 281L1005.4 272L1005.8 270L1006.2 274L1006.6 270L1007.0 268L1007.4 270L1007.8 273L1008.2 275L1008.6 277L1009.0 279L1009.4 281L1009.8 283L1010.2 285L1010.6 286L1011.0 301L1011.4 311L1011.8 311L1012.2 299L1012.6 284L1013.0 292L1013.4 290L1013.8 280L1014.2 273L1014.6 271L1015.0 274L1015.4 278L1015.8 278L1016.2 275L1016.6 255L1017.0 258L1017.4 282L1017.8 284L1018.2 285L1018.6 271L1019.0 271L1019.4 288L1019.8 289L1020.2 290L1020.6 291L1021.0 291L1021.4 293L1021.8 292L1022.2 290L1022.6 289L1023.0 288L1023.4 286L1023.8 284L1024.2 282L1024.6 281L1025.0 276L1025.4 274L1025.8 277L1026.2 275L1026.6 274L1027.0 272L1027.4 271L1027.8 263L1028.2 262L1028.6 269L1029.0 271L1029.4 272L1029.8 275L1030.2 278L1030.6 279L1031.0 278L1031.4 275L1031.8 274L1032.2 272L1032.6 271L1033.0 262L1033.4 260L1033.8 266L1034.2 265L1034.6 268L1035.0 273L1035.4 275L1035.8 277L1036.2 285L1036.6 287L1037.0 288L1037.4 278L1037.8 278L1038.2 278L1038.6 278L1039.0 278L1039.4 289L1039.8 301L1040.2 302L1040.6 295L1041.0 282L1041.4 278L1041.8 277L1042.2 277L1042.6 268L1043.0 266L1043.4 266L1043.8 272L1044.2 271L1044.6 269L1045.0 271L1045.4 273L1045.8 276L1046.2 292L1046.6 294L1047.0 276L1047.4 272L1047.8 267L1048.2 261L1048.6 258L1049.0 275L1049.4 274L1049.8 274L1050.2 256L1050.6 255L1051.0 253L1051.4 252L1051.8 251L1052.2 250L1052.6 249L1053.0 248L1053.4 247L1053.8 247L1054.2 245L1054.6 242L1055.0 244L1055.4 241L1055.8 235L1056.2 238L1056.6 235L1057.0 228L1057.4 226L1057.8 251L1058.2 249L1058.6 220L1059.0 215L1059.4 214L1059.8 217L1060 657.0 Z" fill="#01458c"/>
<g fill="#b3bccb"><rect x="1128.2" y="100.8" width="8.6" height="10.1"/><rect x="1138.7" y="93.5" width="8.1" height="17.4"/><path d="M1149.7 110.9V85.3H1158.6L1171.6 103.2V85.3H1179.8V110.9H1170.9L1157.9 93V110.9Z"/><path d="M1182.1 85.3H1207.7V92.2H1199.1V110.9H1191V92.2H1182.1Z"/><rect x="1209.4" y="93.9" width="8.5" height="17"/><circle cx="1213.6" cy="88" r="4.3"/></g><g transform="translate(1171.34 123.08) scale(1.3074 1.0000)"><text font-size="9.67" font-weight="400" fill="#b3bccb" stroke="#b3bccb" stroke-width="0.25" stroke-linejoin="miter" letter-spacing="1.450">AUDIO</text></g>
<g stroke-width="1" shape-rendering="crispEdges" stroke="#96b4d4" opacity="0.72"><line x1="88.0" y1="574.5" x2="1224.0" y2="574.5"/><line x1="88.0" y1="491.5" x2="1224.0" y2="491.5"/><line x1="88.0" y1="409.5" x2="1224.0" y2="409.5"/><line x1="88.0" y1="326.5" x2="1224.0" y2="326.5"/><line x1="88.0" y1="243.5" x2="1224.0" y2="243.5"/><line x1="88.0" y1="161.5" x2="1224.0" y2="161.5"/><line x1="242.5" y1="78.6" x2="242.5" y2="656.0"/><line x1="485.5" y1="78.6" x2="485.5" y2="656.0"/><line x1="729.5" y1="78.6" x2="729.5" y2="656.0"/><line x1="972.5" y1="78.6" x2="972.5" y2="656.0"/><line x1="1216.5" y1="78.6" x2="1216.5" y2="656.0"/><g stroke-dasharray="4 2" stroke-opacity="0.45"><line x1="160.5" y1="78.0" x2="160.5" y2="656.0"/><line x1="323.5" y1="78.0" x2="323.5" y2="656.0"/><line x1="404.5" y1="78.0" x2="404.5" y2="656.0"/><line x1="566.5" y1="78.0" x2="566.5" y2="656.0"/><line x1="647.5" y1="78.0" x2="647.5" y2="656.0"/><line x1="810.5" y1="78.0" x2="810.5" y2="656.0"/><line x1="891.5" y1="78.0" x2="891.5" y2="656.0"/><line x1="1053.5" y1="78.0" x2="1053.5" y2="656.0"/><line x1="1135.5" y1="78.0" x2="1135.5" y2="656.0"/></g></g>
<clipPath id="gclip"><path d="M1060 657.0L1060.0 102.6L1076.2 102.6L1076.2 127.8L1092.3 127.8L1092.3 142.1L1108.7 142.1L1108.7 152.2L1125.1 152.2L1125.1 160.0L1141.0 160.0L1141.0 166.9L1157.2 166.9L1157.2 172.4L1173.4 172.4L1173.4 176.9L1189.8 176.9L1189.8 181.2L1206.0 181.2L1206.0 184.7L1224.0 184.7L1224 657.0Z"/></clipPath>
<path d="M1060 657.0L1060.0 102.6L1076.2 102.6L1076.2 127.8L1092.3 127.8L1092.3 142.1L1108.7 142.1L1108.7 152.2L1125.1 152.2L1125.1 160.0L1141.0 160.0L1141.0 166.9L1157.2 166.9L1157.2 172.4L1173.4 172.4L1173.4 176.9L1189.8 176.9L1189.8 181.2L1206.0 181.2L1206.0 184.7L1224.0 184.7L1224 657.0Z" fill="#00c080"/>
<g clip-path="url(#gclip)"><g stroke-width="1" shape-rendering="crispEdges" stroke="#8a8f98" opacity="0.4"><line x1="88.0" y1="574.5" x2="1224.0" y2="574.5"/><line x1="88.0" y1="491.5" x2="1224.0" y2="491.5"/><line x1="88.0" y1="409.5" x2="1224.0" y2="409.5"/><line x1="88.0" y1="326.5" x2="1224.0" y2="326.5"/><line x1="88.0" y1="243.5" x2="1224.0" y2="243.5"/><line x1="88.0" y1="161.5" x2="1224.0" y2="161.5"/><line x1="242.5" y1="78.6" x2="242.5" y2="656.0"/><line x1="485.5" y1="78.6" x2="485.5" y2="656.0"/><line x1="729.5" y1="78.6" x2="729.5" y2="656.0"/><line x1="972.5" y1="78.6" x2="972.5" y2="656.0"/><line x1="1216.5" y1="78.6" x2="1216.5" y2="656.0"/><g stroke-dasharray="4 2" stroke-opacity="0.45"><line x1="160.5" y1="78.0" x2="160.5" y2="656.0"/><line x1="323.5" y1="78.0" x2="323.5" y2="656.0"/><line x1="404.5" y1="78.0" x2="404.5" y2="656.0"/><line x1="566.5" y1="78.0" x2="566.5" y2="656.0"/><line x1="647.5" y1="78.0" x2="647.5" y2="656.0"/><line x1="810.5" y1="78.0" x2="810.5" y2="656.0"/><line x1="891.5" y1="78.0" x2="891.5" y2="656.0"/><line x1="1053.5" y1="78.0" x2="1053.5" y2="656.0"/><line x1="1135.5" y1="78.0" x2="1135.5" y2="656.0"/></g></g></g>
<g stroke="#96b4d4" stroke-opacity="0.85" stroke-width="1" shape-rendering="crispEdges"><line x1="88" y1="78.5" x2="1224" y2="78.5"/></g><line x1="1223.5" y1="79" x2="1223.5" y2="656" stroke="#8f9ba6" stroke-opacity="0.9" stroke-width="1" shape-rendering="crispEdges"/>
<path d="M87.0 338.0L100.0 337.0L130.0 336.0L175.0 335.0L200.0 334.1L225.0 332.0L242.0 330.3L255.0 329.0L282.0 328.0L300.0 328.0L308.3 329.0L326.8 332.7L346.3 345.2L370.0 346.0L400.0 346.0L440.0 345.0L480.0 344.0L487.0 343.0L489.0 342.5L492.0 343.8L510.0 345.0L530.0 343.5L560.0 341.0L580.0 339.5L620.0 339.5L660.0 339.0L700.0 338.0L740.0 337.2L752.0 337.0L760.0 334.0L770.0 330.0L779.0 326.5L786.0 324.5L790.0 323.7L854.0 323.7L856.0 322.3L914.0 322.0L930.0 322.0L950.0 321.0L970.0 319.7L1000.0 317.4L1020.0 315.8L1040.0 314.0L1050.0 313.0L1056.0 311.8L1060.0 310.0" fill="none" stroke="#f2faff" stroke-width="3.1" stroke-linejoin="round" stroke-linecap="butt"/>
<g fill="#96989f">
<rect x="86" y="78" width="2" height="584"/>
<rect x="82" y="656" width="1142" height="2"/>
</g><g fill="#a4b4cc">
<rect x="82" y="573" width="4" height="2"/>
<rect x="82" y="490" width="4" height="2"/>
<rect x="82" y="408" width="4" height="2"/>
<rect x="82" y="325" width="4" height="2"/>
<rect x="82" y="242" width="4" height="2"/>
<rect x="82" y="160" width="4" height="2"/>
<rect x="82" y="77" width="4" height="2"/>
<rect x="242" y="658" width="1" height="4"/>
<rect x="485" y="658" width="1" height="4"/>
<rect x="729" y="658" width="1" height="4"/>
<rect x="972" y="658" width="1" height="4"/>
<rect x="1216" y="658" width="1" height="4"/>
<rect x="1223" y="658" width="2" height="4"/>
</g>
<g transform="translate(57.29 663.00) scale(0.9703 1.0000)"><text font-size="13.08" font-weight="400" fill="#f2f8ff">50.0</text></g>
<g transform="translate(57.15 580.00) scale(0.9759 1.0000)"><text font-size="13.08" font-weight="400" fill="#f2f8ff">60.0</text></g>
<g transform="translate(57.15 497.00) scale(0.9762 1.0000)"><text font-size="13.08" font-weight="400" fill="#f2f8ff">70.0</text></g>
<g transform="translate(57.25 415.00) scale(0.9721 1.0000)"><text font-size="13.08" font-weight="400" fill="#f2f8ff">80.0</text></g>
<g transform="translate(57.20 332.00) scale(0.9739 1.0000)"><text font-size="13.08" font-weight="400" fill="#f2f8ff">90.0</text></g>
<g transform="translate(49.82 249.00) scale(0.9831 1.0000)"><text font-size="13.08" font-weight="400" fill="#f2f8ff">100.0</text></g>
<g transform="translate(49.82 167.00) scale(0.9831 1.0000)"><text font-size="13.08" font-weight="400" fill="#f2f8ff">110.0</text></g>
<g transform="translate(49.82 84.00) scale(0.9831 1.0000)"><text font-size="13.08" font-weight="400" fill="#f2f8ff">120.0</text></g>
<g transform="translate(215.48 677.90) scale(1.0281 1.0000)"><text font-size="13.08" font-weight="400" fill="#f2f8ff">15:30:00</text></g>
<g transform="translate(458.48 677.90) scale(1.0281 1.0000)"><text font-size="13.08" font-weight="400" fill="#f2f8ff">15:45:00</text></g>
<g transform="translate(702.48 677.90) scale(1.0281 1.0000)"><text font-size="13.08" font-weight="400" fill="#f2f8ff">16:00:00</text></g>
<g transform="translate(945.48 677.90) scale(1.0281 1.0000)"><text font-size="13.08" font-weight="400" fill="#f2f8ff">16:15:00</text></g>
<g transform="translate(1189.48 677.90) scale(1.0281 1.0000)"><text font-size="13.08" font-weight="400" fill="#f2f8ff">16:30:00</text></g>
<rect x="465" y="710" width="1" height="78" fill="#0c3c78"/><rect x="466" y="710" width="1" height="78" fill="#001638"/>
<rect x="961" y="710" width="1" height="78" fill="#0c3c78"/><rect x="962" y="710" width="1" height="78" fill="#001638"/>
<path d="M23.6 765V748h0.9V765ZM26.8 765L28.2 747.5L30.6 757.5L31.6 755L32.6 756.5L34 742.5L35.2 765ZM35.6 765L38.5 736L41 752L42.6 737L45.2 758L47 740L50 755L52.4 734H56V765Z" fill="#0b62d8"/>
<g transform="translate(66.80 763.55) scale(0.7868 1.0000)"><text font-size="40.84" font-weight="700" fill="#ffffff" stroke="#ffffff" stroke-width="0.90" stroke-linejoin="miter">L</text></g>
<g transform="translate(86.69 768.62) scale(0.8517 1.0000)"><text font-size="26.24" font-weight="700" fill="#ffffff" stroke="#ffffff" stroke-width="0.35" stroke-linejoin="miter">Aeq5&quot;</text></g>
<g transform="translate(152.38 763.20) scale(0.8252 1.0000)"><text font-size="39.83" font-weight="700" fill="#ffffff" stroke="#ffffff" stroke-width="1.60" stroke-linejoin="miter">+</text></g>
<g transform="translate(173.27 763.57) scale(0.7210 0.9500)"><text font-size="40.84" font-weight="700" fill="#ffffff" stroke="#ffffff" stroke-width="0.90" stroke-linejoin="miter">k</text></g>
<g transform="translate(191.99 763.55) scale(0.8541 1.0000)"><text font-size="40.84" font-weight="700" fill="#ffffff" stroke="#ffffff" stroke-width="0.90" stroke-linejoin="miter">1</text><rect x="0.32" y="-5.82" width="8.21" height="8.07" fill="#00204a"/><rect x="15.94" y="-5.82" width="7.89" height="8.07" fill="#00204a"/></g>
<g transform="translate(257.70 767.80) scale(0.7900 1.0000)"><text font-size="54.07" font-weight="700" fill="#f81f1f" stroke="#f81f1f" stroke-width="1.00" stroke-linejoin="miter">102.9</text><rect x="1.11" y="-7.22" width="10.46" height="9.52" fill="#00204a"/><rect x="20.89" y="-7.22" width="9.98" height="9.52" fill="#00204a"/></g>
<g transform="translate(365.58 767.47) scale(0.7871 0.9500)"><text font-size="42.59" font-weight="700" fill="#f81f1f" stroke="#f81f1f" stroke-width="0.90" stroke-linejoin="miter">d</text></g>
<g transform="translate(386.90 767.45) scale(0.7979 1.0000)"><text font-size="42.30" font-weight="700" fill="#f81f1f" stroke="#f81f1f" stroke-width="0.90" stroke-linejoin="miter">B</text></g>
<path d="M520.2 764.7L525.6 762.4L528.9 752.8L532.2 749.9L534.6 752L538.7 736.6L542 735.3L545.3 739.4L549.4 740L551.9 734.8" fill="none" stroke="#c2d1ec" stroke-width="3.5" stroke-linejoin="round" stroke-linecap="butt"/>
<g transform="translate(562.70 763.55) scale(0.7868 1.0000)"><text font-size="40.84" font-weight="700" fill="#ffffff" stroke="#ffffff" stroke-width="0.90" stroke-linejoin="miter">L</text></g>
<g transform="translate(583.20 768.62) scale(0.8317 1.0000)"><text font-size="26.24" font-weight="700" fill="#ffffff" stroke="#ffffff" stroke-width="0.35" stroke-linejoin="miter">Aeq60'</text></g>
<g transform="translate(654.68 763.20) scale(0.8252 1.0000)"><text font-size="39.83" font-weight="700" fill="#ffffff" stroke="#ffffff" stroke-width="1.60" stroke-linejoin="miter">+</text></g>
<g transform="translate(675.57 763.57) scale(0.7210 0.9500)"><text font-size="40.84" font-weight="700" fill="#ffffff" stroke="#ffffff" stroke-width="0.90" stroke-linejoin="miter">k</text></g>
<g transform="translate(694.29 763.55) scale(0.8541 1.0000)"><text font-size="40.84" font-weight="700" fill="#ffffff" stroke="#ffffff" stroke-width="0.90" stroke-linejoin="miter">1</text><rect x="0.32" y="-5.82" width="8.21" height="8.07" fill="#00204a"/><rect x="15.94" y="-5.82" width="7.89" height="8.07" fill="#00204a"/></g>
<g transform="translate(777.51 767.80) scale(0.7950 1.0000)"><text font-size="54.07" font-weight="700" fill="#c0f890" stroke="#c0f890" stroke-width="1.00" stroke-linejoin="miter">92.0</text></g>
<g transform="translate(860.98 767.47) scale(0.7871 0.9500)"><text font-size="42.59" font-weight="700" fill="#c0f890" stroke="#c0f890" stroke-width="0.90" stroke-linejoin="miter">d</text></g>
<g transform="translate(882.30 767.45) scale(0.7979 1.0000)"><text font-size="42.30" font-weight="700" fill="#c0f890" stroke="#c0f890" stroke-width="0.90" stroke-linejoin="miter">B</text></g>
<g transform="translate(1016.35 762.55) scale(0.7659 1.0000)"><text font-size="36.92" font-weight="700" fill="#ffffff" stroke="#ffffff" stroke-width="0.90" stroke-linejoin="miter">L</text></g>
<g transform="translate(1034.20 762.57) scale(0.7992 0.9500)"><text font-size="36.92" font-weight="700" fill="#ffffff" stroke="#ffffff" stroke-width="0.90" stroke-linejoin="miter">imit:</text></g>
<g transform="translate(1160.24 763.55) scale(0.8201 1.0000)"><text font-size="41.28" font-weight="700" fill="#ffffff" stroke="#ffffff" stroke-width="0.90" stroke-linejoin="miter">100</text><rect x="0.35" y="-5.86" width="8.28" height="8.11" fill="#00204a"/><rect x="16.10" y="-5.86" width="7.96" height="8.11" fill="#00204a"/></g>
<g transform="translate(1217.51 763.62) scale(0.8037 0.9500)"><text font-size="33.72" font-weight="700" fill="#ffffff" stroke="#ffffff" stroke-width="0.80" stroke-linejoin="miter">d</text></g>
<g transform="translate(1234.62 763.60) scale(0.8071 1.0000)"><text font-size="33.43" font-weight="700" fill="#ffffff" stroke="#ffffff" stroke-width="0.80" stroke-linejoin="miter">B</text></g>
<rect x="19.1" y="832.9" width="1239.9" height="63" fill="#434343"/>
<rect x="465" y="835.4" width="1" height="58.5" fill="#505050"/><rect x="466" y="835.4" width="1" height="58.5" fill="#363636"/>
<rect x="961" y="835.4" width="1" height="58.5" fill="#505050"/><rect x="962" y="835.4" width="1" height="58.5" fill="#363636"/>
<g transform="translate(30.55 862.00) scale(0.9294 1.0000)"><text font-size="11.77" font-weight="400" fill="#f4f4f4">2nd</text></g>
<g transform="translate(26.55 875.10) scale(0.8810 1.0000)"><text font-size="11.63" font-weight="400" fill="#f4f4f4">Value</text></g>
<g transform="translate(66.80 878.55) scale(0.7868 1.0000)"><text font-size="40.84" font-weight="700" fill="#ffffff" stroke="#ffffff" stroke-width="0.90" stroke-linejoin="miter">L</text></g>
<g transform="translate(86.99 883.43) scale(0.8574 1.0000)"><text font-size="26.24" font-weight="700" fill="#ffffff" stroke="#ffffff" stroke-width="0.35" stroke-linejoin="miter">AF</text></g>
<g transform="translate(257.71 882.70) scale(0.7869 1.0000)"><text font-size="54.07" font-weight="700" fill="#c0f890" stroke="#c0f890" stroke-width="1.00" stroke-linejoin="miter">106.5</text><rect x="1.11" y="-7.22" width="10.46" height="9.52" fill="#434343"/><rect x="20.89" y="-7.22" width="9.98" height="9.52" fill="#434343"/></g>
<g transform="translate(365.58 882.37) scale(0.7871 0.9500)"><text font-size="42.59" font-weight="700" fill="#c0f890" stroke="#c0f890" stroke-width="0.90" stroke-linejoin="miter">d</text></g>
<g transform="translate(386.90 882.35) scale(0.7979 1.0000)"><text font-size="42.30" font-weight="700" fill="#c0f890" stroke="#c0f890" stroke-width="0.90" stroke-linejoin="miter">B</text></g>
<g transform="translate(561.99 878.45) scale(0.8869 1.0000)"><text font-size="37.94" font-weight="700" fill="#ffffff" stroke="#ffffff" stroke-width="0.70" stroke-linejoin="miter">max</text></g>
<g transform="translate(755.06 882.70) scale(0.7722 1.0000)"><text font-size="54.07" font-weight="700" fill="#c0f890" stroke="#c0f890" stroke-width="1.00" stroke-linejoin="miter">110.4</text><rect x="1.11" y="-7.22" width="10.46" height="9.52" fill="#434343"/><rect x="20.89" y="-7.22" width="9.98" height="9.52" fill="#434343"/><rect x="31.18" y="-7.22" width="10.46" height="9.52" fill="#434343"/><rect x="50.96" y="-7.22" width="9.98" height="9.52" fill="#434343"/></g>
<g transform="translate(860.98 882.37) scale(0.7871 0.9500)"><text font-size="42.59" font-weight="700" fill="#c0f890" stroke="#c0f890" stroke-width="0.90" stroke-linejoin="miter">d</text></g>
<g transform="translate(882.30 882.35) scale(0.7979 1.0000)"><text font-size="42.30" font-weight="700" fill="#c0f890" stroke="#c0f890" stroke-width="0.90" stroke-linejoin="miter">B</text></g>
<g transform="translate(1016.35 877.55) scale(0.7659 1.0000)"><text font-size="36.92" font-weight="700" fill="#ffffff" stroke="#ffffff" stroke-width="0.90" stroke-linejoin="miter">L</text></g>
<g transform="translate(1034.20 877.57) scale(0.7992 0.9500)"><text font-size="36.92" font-weight="700" fill="#ffffff" stroke="#ffffff" stroke-width="0.90" stroke-linejoin="miter">imit:</text></g>
<g transform="translate(1160.23 878.55) scale(0.8240 1.0000)"><text font-size="41.28" font-weight="700" fill="#ffffff" stroke="#ffffff" stroke-width="0.90" stroke-linejoin="miter">125</text><rect x="0.35" y="-5.86" width="8.28" height="8.11" fill="#434343"/><rect x="16.10" y="-5.86" width="7.96" height="8.11" fill="#434343"/></g>
<g transform="translate(1217.71 878.62) scale(0.8037 0.9500)"><text font-size="33.72" font-weight="700" fill="#ffffff" stroke="#ffffff" stroke-width="0.80" stroke-linejoin="miter">d</text></g>
<g transform="translate(1234.82 878.60) scale(0.8071 1.0000)"><text font-size="33.43" font-weight="700" fill="#ffffff" stroke="#ffffff" stroke-width="0.80" stroke-linejoin="miter">B</text></g>
<rect x="19.1" y="905.9" width="1239.9" height="63" fill="#434343"/>
<rect x="465" y="908.4" width="1" height="58.5" fill="#505050"/><rect x="466" y="908.4" width="1" height="58.5" fill="#363636"/>
<rect x="961" y="908.4" width="1" height="58.5" fill="#505050"/><rect x="962" y="908.4" width="1" height="58.5" fill="#363636"/>
<g transform="translate(31.67 935.00) scale(0.9552 1.0000)"><text font-size="11.77" font-weight="400" fill="#f4f4f4">3rd</text></g>
<g transform="translate(26.55 948.10) scale(0.8810 1.0000)"><text font-size="11.63" font-weight="400" fill="#f4f4f4">Value</text></g>
<g transform="translate(66.80 951.55) scale(0.7868 1.0000)"><text font-size="40.84" font-weight="700" fill="#ffffff" stroke="#ffffff" stroke-width="0.90" stroke-linejoin="miter">L</text></g>
<g transform="translate(86.63 956.43) scale(0.8514 1.0000)"><text font-size="26.24" font-weight="700" fill="#ffffff" stroke="#ffffff" stroke-width="0.35" stroke-linejoin="miter">Cpk</text></g>
<g transform="translate(259.44 955.70) scale(0.7779 1.0000)"><text font-size="54.07" font-weight="700" fill="#c0f890" stroke="#c0f890" stroke-width="1.00" stroke-linejoin="miter">116.2</text><rect x="1.11" y="-7.22" width="10.46" height="9.52" fill="#434343"/><rect x="20.89" y="-7.22" width="9.98" height="9.52" fill="#434343"/><rect x="31.18" y="-7.22" width="10.46" height="9.52" fill="#434343"/><rect x="50.96" y="-7.22" width="9.98" height="9.52" fill="#434343"/></g>
<g transform="translate(365.58 955.37) scale(0.7871 0.9500)"><text font-size="42.59" font-weight="700" fill="#c0f890" stroke="#c0f890" stroke-width="0.90" stroke-linejoin="miter">d</text></g>
<g transform="translate(386.90 955.35) scale(0.7979 1.0000)"><text font-size="42.30" font-weight="700" fill="#c0f890" stroke="#c0f890" stroke-width="0.90" stroke-linejoin="miter">B</text></g>
<g transform="translate(561.99 951.45) scale(0.8869 1.0000)"><text font-size="37.94" font-weight="700" fill="#ffffff" stroke="#ffffff" stroke-width="0.70" stroke-linejoin="miter">max</text></g>
<g transform="translate(753.69 955.70) scale(0.7945 1.0000)"><text font-size="54.07" font-weight="700" fill="#c0f890" stroke="#c0f890" stroke-width="1.00" stroke-linejoin="miter">125.7</text><rect x="1.11" y="-7.22" width="10.46" height="9.52" fill="#434343"/><rect x="20.89" y="-7.22" width="9.98" height="9.52" fill="#434343"/></g>
<g transform="translate(860.98 955.37) scale(0.7871 0.9500)"><text font-size="42.59" font-weight="700" fill="#c0f890" stroke="#c0f890" stroke-width="0.90" stroke-linejoin="miter">d</text></g>
<g transform="translate(882.30 955.35) scale(0.7979 1.0000)"><text font-size="42.30" font-weight="700" fill="#c0f890" stroke="#c0f890" stroke-width="0.90" stroke-linejoin="miter">B</text></g>
<g transform="translate(1016.35 950.55) scale(0.7659 1.0000)"><text font-size="36.92" font-weight="700" fill="#ffffff" stroke="#ffffff" stroke-width="0.90" stroke-linejoin="miter">L</text></g>
<g transform="translate(1034.20 950.57) scale(0.7992 0.9500)"><text font-size="36.92" font-weight="700" fill="#ffffff" stroke="#ffffff" stroke-width="0.90" stroke-linejoin="miter">imit:</text></g>
<g transform="translate(1160.23 951.55) scale(0.8240 1.0000)"><text font-size="41.28" font-weight="700" fill="#ffffff" stroke="#ffffff" stroke-width="0.90" stroke-linejoin="miter">135</text><rect x="0.35" y="-5.86" width="8.28" height="8.11" fill="#434343"/><rect x="16.10" y="-5.86" width="7.96" height="8.11" fill="#434343"/></g>
<g transform="translate(1217.71 951.62) scale(0.8037 0.9500)"><text font-size="33.72" font-weight="700" fill="#ffffff" stroke="#ffffff" stroke-width="0.80" stroke-linejoin="miter">d</text></g>
<g transform="translate(1234.82 951.60) scale(0.8071 1.0000)"><text font-size="33.43" font-weight="700" fill="#ffffff" stroke="#ffffff" stroke-width="0.80" stroke-linejoin="miter">B</text></g>
</svg></body></html>
